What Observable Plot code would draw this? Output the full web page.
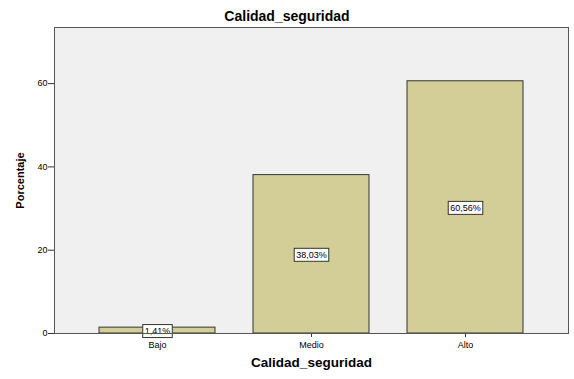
<!DOCTYPE html>
<html>
<head>
<meta charset="utf-8">
<script src="https://cdn.jsdelivr.net/npm/d3@7"></script>
<script src="https://cdn.jsdelivr.net/npm/@observablehq/plot@0.6"></script>
<style>
  body { margin: 0; background: #fff; font-family: "Liberation Sans", Arial, sans-serif; }
  #title { width: 574px; height: 17px; padding-top: 9px; line-height: 14px; font-size: 14px; font-weight: bold; text-align: center; color: #000; }
</style>
</head>
<body>
<div id="title"></div>
<div id="chart"></div>
<script>
const titleText = "Calidad_seguridad";
const xTitle = "Calidad_seguridad";
const yTitle = "Porcentaje";
const categories = ["Bajo", "Medio", "Alto"];
const values = [1.41, 38.03, 60.56];
const valueLabels = ["1,41%", "38,03%", "60,56%"];
const yTicks = [0, 20, 40, 60];

const data = categories.map((c, i) => ({cat: c, value: values[i], label: valueLabels[i]}));

document.getElementById("title").textContent = titleText;

function boxed(index, scales, vals, dims, ctx, next) {
  const g = next(index, scales, vals, dims, ctx);
  const ns = "http://www.w3.org/2000/svg";
  const c = document.createElement("canvas").getContext("2d");
  c.font = "9px 'Liberation Sans', Arial, sans-serif";
  for (const el of Array.from(g.querySelectorAll("text"))) {
    const w = c.measureText(el.textContent).width + 4;
    const h = 13;
    const r = document.createElementNS(ns, "rect");
    r.setAttribute("transform", el.getAttribute("transform") || "");
    r.setAttribute("x", -w / 2);
    r.setAttribute("y", -h / 2 - 0.5);
    r.setAttribute("width", w);
    r.setAttribute("height", h);
    r.setAttribute("fill", "#ffffff");
    r.setAttribute("stroke", "#333");
    r.setAttribute("stroke-width", 1);
    el.parentNode.insertBefore(r, el);
  }
  return g;
}

const chart = Plot.plot({
  width: 574,
  height: 353,
  marginTop: 1,
  marginLeft: 54,
  marginRight: 6,
  marginBottom: 46,
  style: {fontFamily: "'Liberation Sans', Arial, sans-serif", fontSize: "9px", color: "#000", background: "#fff"},
  x: {domain: categories, paddingInner: 0.25, paddingOuter: 0.29, label: null},
  y: {domain: [0, 73.47], label: null},
  marks: [
    Plot.frame({fill: "#f0f0f0", stroke: null}),
    Plot.barY(data, {x: "cat", y: "value", fill: "#d3ce97", stroke: "#333", strokeWidth: 1}),
    Plot.axisY({ticks: yTicks, tickSize: 6, tickPadding: 1, label: null, stroke: "#333"}),
    Plot.axisX({tickSize: 4, tickPadding: 4, label: null, stroke: "#333"}),
    Plot.text(data, {x: "cat", y: d => d.value / 2, dy: 1, text: "label", fontSize: 9, fill: "#000", render: boxed}),
    Plot.frame({stroke: "#555"}),
    Plot.text([xTitle], {frameAnchor: "bottom", lineAnchor: "top", dy: 23.5, fontSize: 13.5, fontWeight: "bold", fill: "#000"}),
    Plot.text([yTitle], {frameAnchor: "left", textAnchor: "middle", rotate: -90, dx: -34, fontSize: 11, fontWeight: "bold", fill: "#000"})
  ]
});
document.getElementById("chart").appendChild(chart);
</script>
</body>
</html>
